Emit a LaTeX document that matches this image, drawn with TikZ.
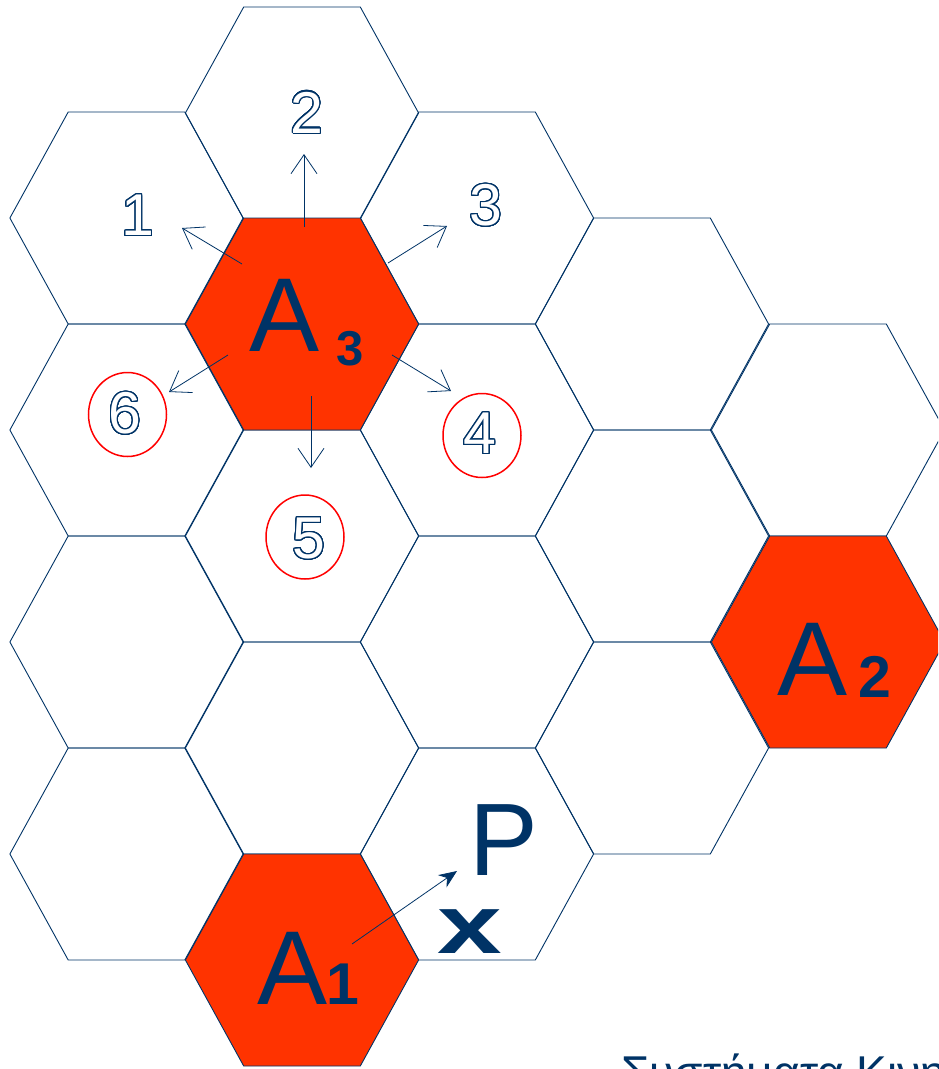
\documentclass[tikz,border=0pt]{standalone}
\usepackage{fontspec}
\setmainfont{Liberation Sans}
\usepackage{contour}
\usetikzlibrary{arrows.meta,shapes.geometric}

\definecolor{cellnavy}{RGB}{0,51,102}
\definecolor{cellred}{RGB}{255,51,0}
\definecolor{ringred}{RGB}{255,0,0}
\contourlength{1.1pt}
\contournumber{32}

\tikzset{
    hexline/.style={
        draw=cellnavy,
        line width=0.9pt
    },
    hotcell/.style={
        hexline,
        fill=cellred
    },
    bigletter/.style={
        font=\fontsize{105}{105}\selectfont,
        text=cellnavy,
        inner sep=0pt
    },
    subnum/.style={
        font=\bfseries\fontsize{59}{59}\selectfont,
        text=cellnavy,
        inner sep=0pt
    },
    cellnum/.style={
        font=\fontsize{59}{59}\selectfont,
        text=white,
        inner sep=0pt
    },
    ringnode/.style={
        draw=ringred,
        line width=1.5pt,
        ellipse,
        minimum width=78pt,
        minimum height=84pt,
        inner sep=0pt
    },
    nbarrow/.style={
        draw=cellnavy,
        line width=0.8pt,
        -{Straight Barb[length=19pt,width=26pt]}
    },
    mobarrow/.style={
        draw=cellnavy,
        line width=0.8pt,
        -{Stealth[length=18pt,width=15pt]}
    }
}

% one hexagonal cell: [style] {centre x} {centre y}
\newcommand{\hexcell}[3][]{%
  \draw[hexline,#1] (#2-116.6,#3) -- ++(58.3,-106) -- ++(116.6,0) -- ++(58.3,106)
    -- ++(-58.3,106) -- ++(-116.6,0) -- cycle;}

\begin{document}
\begin{tikzpicture}[x=1pt,y=-1pt]
\useasboundingbox (0,0) rectangle (938,1069);
\clip (0,0) rectangle (938,1069);

% cells
\hexcell{126.5}{218}
\hexcell{126.5}{430}
\hexcell{126.5}{642}
\hexcell{126.5}{854}
\hexcell{302}{113}
\hexcell{302}{536}
\hexcell{302}{748}
\hexcell{477}{218}
\hexcell{477}{430}
\hexcell{477}{642}
\hexcell{477}{854}
\hexcell{652}{324}
\hexcell{652}{536}
\hexcell{652}{748}
\hexcell{828}{430}

% base stations
\hexcell[hotcell]{302}{324}
\hexcell[hotcell]{302}{960}
\hexcell[hotcell]{828}{642}

% arrows out of A3
\coordinate (o1) at (242,264);
\coordinate (t1) at (182,228);
\coordinate (o2) at (304,227);
\coordinate (t2) at (304,154);
\coordinate (o3) at (388,263);
\coordinate (t3) at (447,226);
\coordinate (o4) at (392,355);
\coordinate (t4) at (451,391);
\coordinate (o5) at (311,396);
\coordinate (t5) at (311,468);
\coordinate (o6) at (228,355);
\coordinate (t6) at (169,392);
\draw[nbarrow] (o1) -- (t1);
\draw[nbarrow] (o2) -- (t2);
\draw[nbarrow] (o3) -- (t3);
\draw[nbarrow] (o4) -- (t4);
\draw[nbarrow] (o5) -- (t5);
\draw[nbarrow] (o6) -- (t6);

% A1 towards P
\coordinate (oP) at (352,944);
\coordinate (tP) at (457,871);
\draw[mobarrow] (oP) -- (tP);

% station labels
\node[bigletter, anchor=base west] (A3) at (249,351) {A};
\node[subnum, anchor=base west] (A3n) at (336,365) {\fontsize{49}{49}\selectfont 3};
\node[bigletter, anchor=base west] (A1) at (257,1004) {A};
\node[subnum, anchor=base west] (A1n) at (326,1004) {1};
\node[bigletter, anchor=base west] (A2) at (777,695) {A};
\node[subnum, anchor=base west] (A2n) at (858,697) {2};

% neighbour numbers
\node[cellnum] (n1) at (138,216) {\contour{cellnavy}{1}};
\node[cellnum] (n2) at (307,113) {\contour{cellnavy}{2}};
\node[cellnum] (n3) at (486,206) {\contour{cellnavy}{3}};
\node[cellnum] (n4) at (480,434) {\contour{cellnavy}{4}};
\node[cellnum] (n5) at (309,539) {\contour{cellnavy}{5}};
\node[cellnum] (n6) at (125,414) {\contour{cellnavy}{6}};
\node[ringnode] (r4) at (482,435.5) {};
\node[ringnode] (r5) at (305,537) {};
\node[ringnode] (r6) at (127.5,414.5) {};

% mobile
\node[bigletter, font=\fontsize{103}{103}\selectfont, anchor=base west] (P) at (469,875) {P};
\node[text=cellnavy, font=\bfseries\fontsize{83}{83}\selectfont, inner sep=0pt, anchor=base] (mob) at (470,953) {\scalebox{1.4}[1]{x}};

% footer
\node[text=cellnavy, font=\fontsize{46}{46}\selectfont, inner sep=0pt, anchor=base west] (foot) at (621,1088) {Συστήματα Κινητών};
\end{tikzpicture}
\end{document}
